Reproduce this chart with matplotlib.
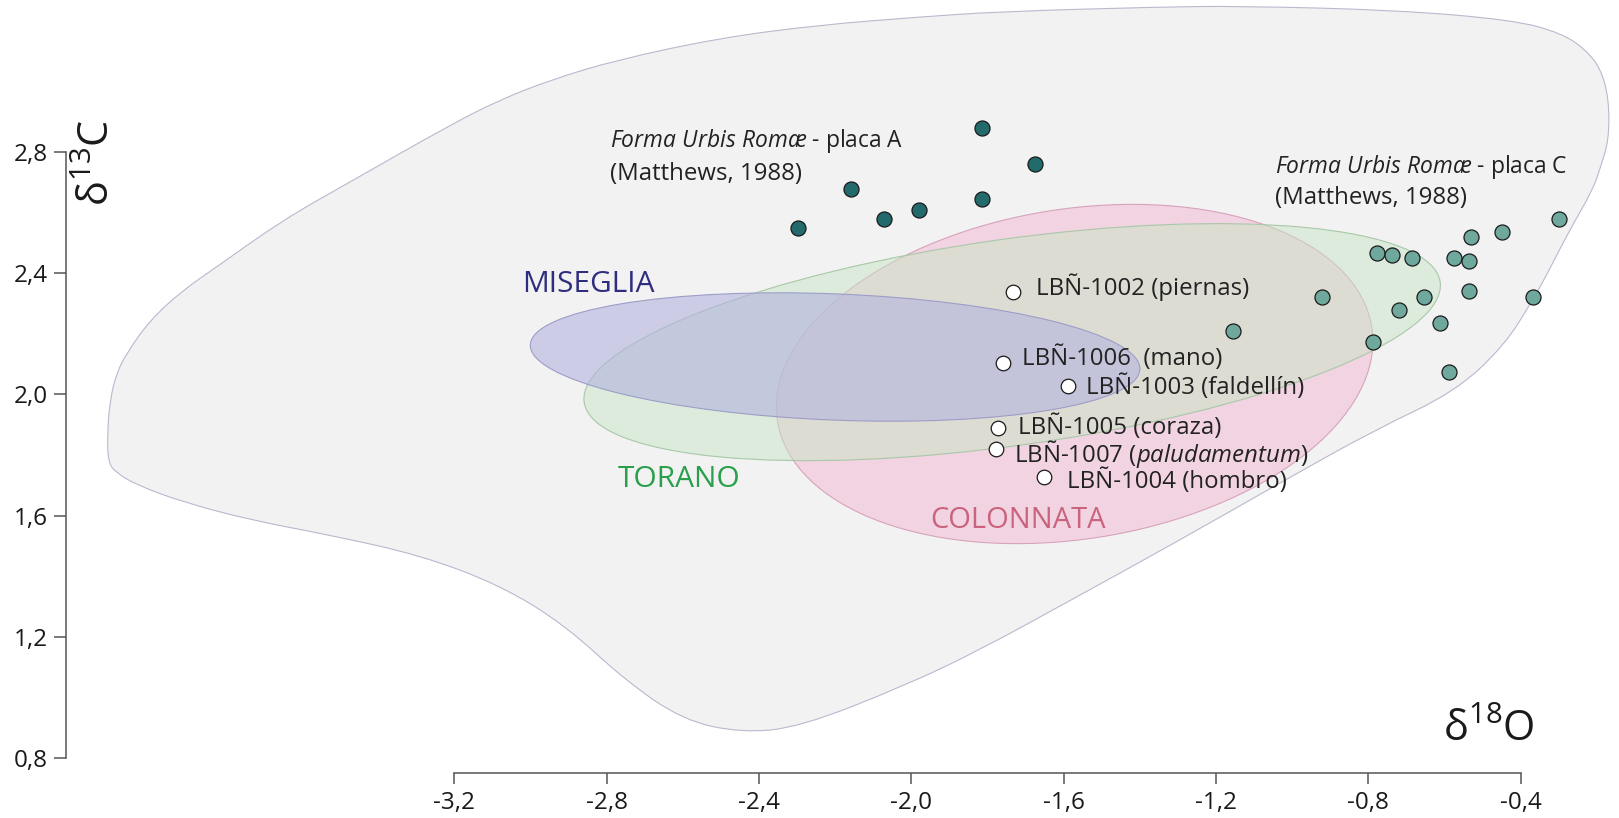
import numpy as np
import matplotlib
matplotlib.use('Agg')
import matplotlib.pyplot as plt
import matplotlib.transforms as mtransforms
from matplotlib.path import Path
from matplotlib.patches import PathPatch, Ellipse

plt.rcParams['font.family'] = ['Open Sans', 'DejaVu Sans']
plt.rcParams['mathtext.fontset'] = 'custom'
plt.rcParams['mathtext.rm'] = 'Open Sans'
plt.rcParams['mathtext.it'] = 'Open Sans:italic'

# --- Datos (d18O, d13C) ---
placa_a_x = [-2.298, -2.158, -2.071, -1.980, -1.813, -1.813, -1.675]
placa_a_y = [2.547, 2.676, 2.578, 2.607, 2.877, 2.643, 2.759]

placa_c_x = [-0.921, -1.156, -0.777, -0.737, -0.685, -0.529, -0.448, -0.300, -0.575,
             -0.535, -0.535, -0.653, -0.718, -0.368, -0.611, -0.787, -0.589]
placa_c_y = [2.322, 2.210, 2.465, 2.458, 2.450, 2.518, 2.535, 2.578, 2.450,
             2.439, 2.339, 2.322, 2.277, 2.321, 2.234, 2.173, 2.075]

muestras = ['LBÑ-1002 (piernas)', 'LBÑ-1006  (mano)', 'LBÑ-1003 (faldellín)',
            'LBÑ-1005 (coraza)', r'LBÑ-1007 ($\mathit{paludamentum}$)', 'LBÑ-1004 (hombro)']
muestras_x = [-1.732, -1.758, -1.589, -1.771, -1.777, -1.651]
muestras_y = [2.338, 2.102, 2.028, 1.888, 1.820, 1.728]

# campos de las canteras de Carrara: centro, semiejes, giro
canteras = ['COLONNATA', 'TORANO', 'MISEGLIA']
cantera_cx = [-1.571, -1.735, -2.200]
cantera_cy = [2.067, 2.172, 2.123]
cantera_rx = [0.790, 1.135, 0.801]
cantera_ry = [0.544, 0.340, 0.208]
cantera_ang = [9.0, 8.0, -2.3]

# contorno del campo general de marmoles
campo_x = [-4.111, -4.104, -4.087, -4.060, -3.999, -3.912, -3.824, -3.650, -3.474, -3.211,
           -3.080, -2.948, -2.775, -2.502, -2.239, -1.977, -1.767, -1.347, -1.137, -0.730,
           -0.418, -0.294, -0.231, -0.189, -0.168, -0.168, -0.189, -0.210, -0.271, -0.334,
           -0.368, -0.441, -0.572, -0.782, -1.019, -1.294, -1.570, -1.820, -2.014, -2.292,
           -2.445, -2.600, -2.752, -2.910, -3.080, -3.290, -3.527, -3.737, -3.913, -4.034,
           -4.087, -4.109]
campo_y = [1.873, 1.981, 2.070, 2.136, 2.245, 2.344, 2.420, 2.575, 2.700, 2.888,
           2.971, 3.036, 3.102, 3.175, 3.218, 3.244, 3.262, 3.277, 3.280, 3.267,
           3.234, 3.191, 3.139, 3.073, 2.974, 2.839, 2.753, 2.674, 2.542, 2.387,
           2.311, 2.163, 2.008, 1.883, 1.717, 1.520, 1.329, 1.157, 1.041, 0.903,
           0.884, 0.926, 1.058, 1.240, 1.371, 1.470, 1.536, 1.586, 1.645, 1.701,
           1.741, 1.774]

xticks = [-3.2, -2.8, -2.4, -2.0, -1.6, -1.2, -0.8, -0.4]
yticks = [0.8, 1.2, 1.6, 2.0, 2.4, 2.8]

# --- Figura ---
fig = plt.figure(figsize=(16.19, 8.18), dpi=100)
ax = fig.add_axes([0, 0, 1, 1])
xlim = (-4.393, -0.1414)
ylim = (0.6032, 3.300)
ax.set_xlim(*xlim)
ax.set_ylim(*ylim)
ax.patch.set_facecolor('white')

# relacion pulgada/unidad en cada eje (para girar las elipses en pantalla)
sx = 16.19 / (xlim[1] - xlim[0])
sy = 8.18 / (ylim[1] - ylim[0])

# campo general: curva suave por los puntos del contorno
pts = np.column_stack([campo_x, campo_y])
mids = (pts + np.roll(pts, -1, axis=0)) / 2
verts = [mids[-1]]
codes = [Path.MOVETO]
for i in range(len(pts)):
    verts += [pts[i], mids[i]]
    codes += [Path.CURVE3, Path.CURVE3]
verts.append(mids[-1])
codes.append(Path.CLOSEPOLY)
ax.add_patch(PathPatch(Path(verts, codes), facecolor='#f2f2f2', edgecolor='#b9b9cf',
                       linewidth=0.8, zorder=1))

relleno = ['#f3c9dc', '#c8e6c5', '#b3b3de']
alfa = [0.75, 0.5, 0.6]
borde = ['#d7a3bb', '#a8c8a8', '#9d9dc8']
for i in range(3):
    tr = (mtransforms.Affine2D().scale(sx, sy).rotate_deg(cantera_ang[i])
          .scale(1 / sx, 1 / sy).translate(cantera_cx[i], cantera_cy[i]) + ax.transData)
    e = Ellipse((0, 0), 2 * cantera_rx[i], 2 * cantera_ry[i], transform=tr,
                facecolor=relleno[i], alpha=alfa[i], edgecolor='none', zorder=2 + i)
    ax.add_patch(e)
    e2 = Ellipse((0, 0), 2 * cantera_rx[i], 2 * cantera_ry[i], transform=tr,
                 facecolor='none', edgecolor=borde[i], linewidth=0.8, zorder=2 + i)
    ax.add_patch(e2)

# puntos
ax.scatter(placa_a_x, placa_a_y, s=117, facecolor='#236a6c', edgecolor='#1a1a1a',
           linewidth=0.9, zorder=10)
ax.scatter(placa_c_x, placa_c_y, s=117, facecolor='#6fa99e', edgecolor='#1a1a1a',
           linewidth=0.9, zorder=10)
ax.scatter(muestras_x, muestras_y, s=110, facecolor='white', edgecolor='#1a1a1a',
           linewidth=0.9, zorder=10)

fs = 17.3
desp = [(16.5, -2.6), (13.2, -1.2), (13.2, -6.0), (14.4, -3.8), (13.0, -9.4), (16.3, -8.2)]
for nombre, x, y, d in zip(muestras, muestras_x, muestras_y, desp):
    ax.annotate(nombre, (x, y), xytext=d, textcoords='offset points', fontsize=fs,
                color='#222222', va='baseline', ha='left', zorder=11)

# rotulos de las placas
ax.text(-2.791, 2.815, r'$\mathit{Forma\ Urbis\ Romæ}$ - placa A', fontsize=16.4,
        color='#222222', va='baseline', ha='left', zorder=11)
ax.text(-2.791, 2.706, '(Matthews, 1988)', fontsize=fs, color='#222222',
        va='baseline', ha='left', zorder=11)
ax.text(-1.045, 2.730, r'$\mathit{Forma\ Urbis\ Romæ}$ - placa C', fontsize=16.4,
        color='#222222', va='baseline', ha='left', zorder=11)
ax.text(-1.045, 2.626, '(Matthews, 1988)', fontsize=fs, color='#222222',
        va='baseline', ha='left', zorder=11)

# nombres de canteras
ax.text(-3.023, 2.361, 'MISEGLIA', fontsize=21.5, color='#2e2d7f', va='center', zorder=11)
ax.text(-2.771, 1.720, 'TORANO', fontsize=21.5, color='#2ba04c', va='center', zorder=11)
ax.text(-1.949, 1.584, 'COLONNATA', fontsize=21, color='#c9637e', va='center', zorder=11)

# titulos de ejes
ax.text(-4.136, 2.763, r'$\mathregular{\delta^{13}C}$', fontsize=30, rotation=90,
        ha='center', va='center', color='#1a1a1a')
ax.text(-0.483, 0.893, r'$\mathregular{\delta^{18}O}$', fontsize=30,
        ha='center', va='center', color='#1a1a1a')

# ejes desplazados
for lado in ['top', 'right']:
    ax.spines[lado].set_visible(False)
ax.spines['left'].set_position(('data', -4.2197))
ax.spines['left'].set_bounds(0.8, 2.8)
ax.spines['bottom'].set_position(('data', 0.7532))
ax.spines['bottom'].set_bounds(-3.2, -0.4)
for lado in ['left', 'bottom']:
    ax.spines[lado].set_color('#555555')
    ax.spines[lado].set_linewidth(1.1)
ax.set_xticks(xticks)
ax.set_xticklabels([f'{v:.1f}'.replace('.', ',') for v in xticks])
ax.set_yticks(yticks)
ax.set_yticklabels([f'{v:.1f}'.replace('.', ',') for v in yticks])
ax.tick_params(axis='both', direction='out', length=9, width=1.1, color='#555555',
               labelsize=17.5, labelcolor='#1a1a1a')
ax.tick_params(axis='x', length=8, pad=5)
ax.tick_params(axis='y', pad=4)

fig.savefig('out.png', dpi=100)
